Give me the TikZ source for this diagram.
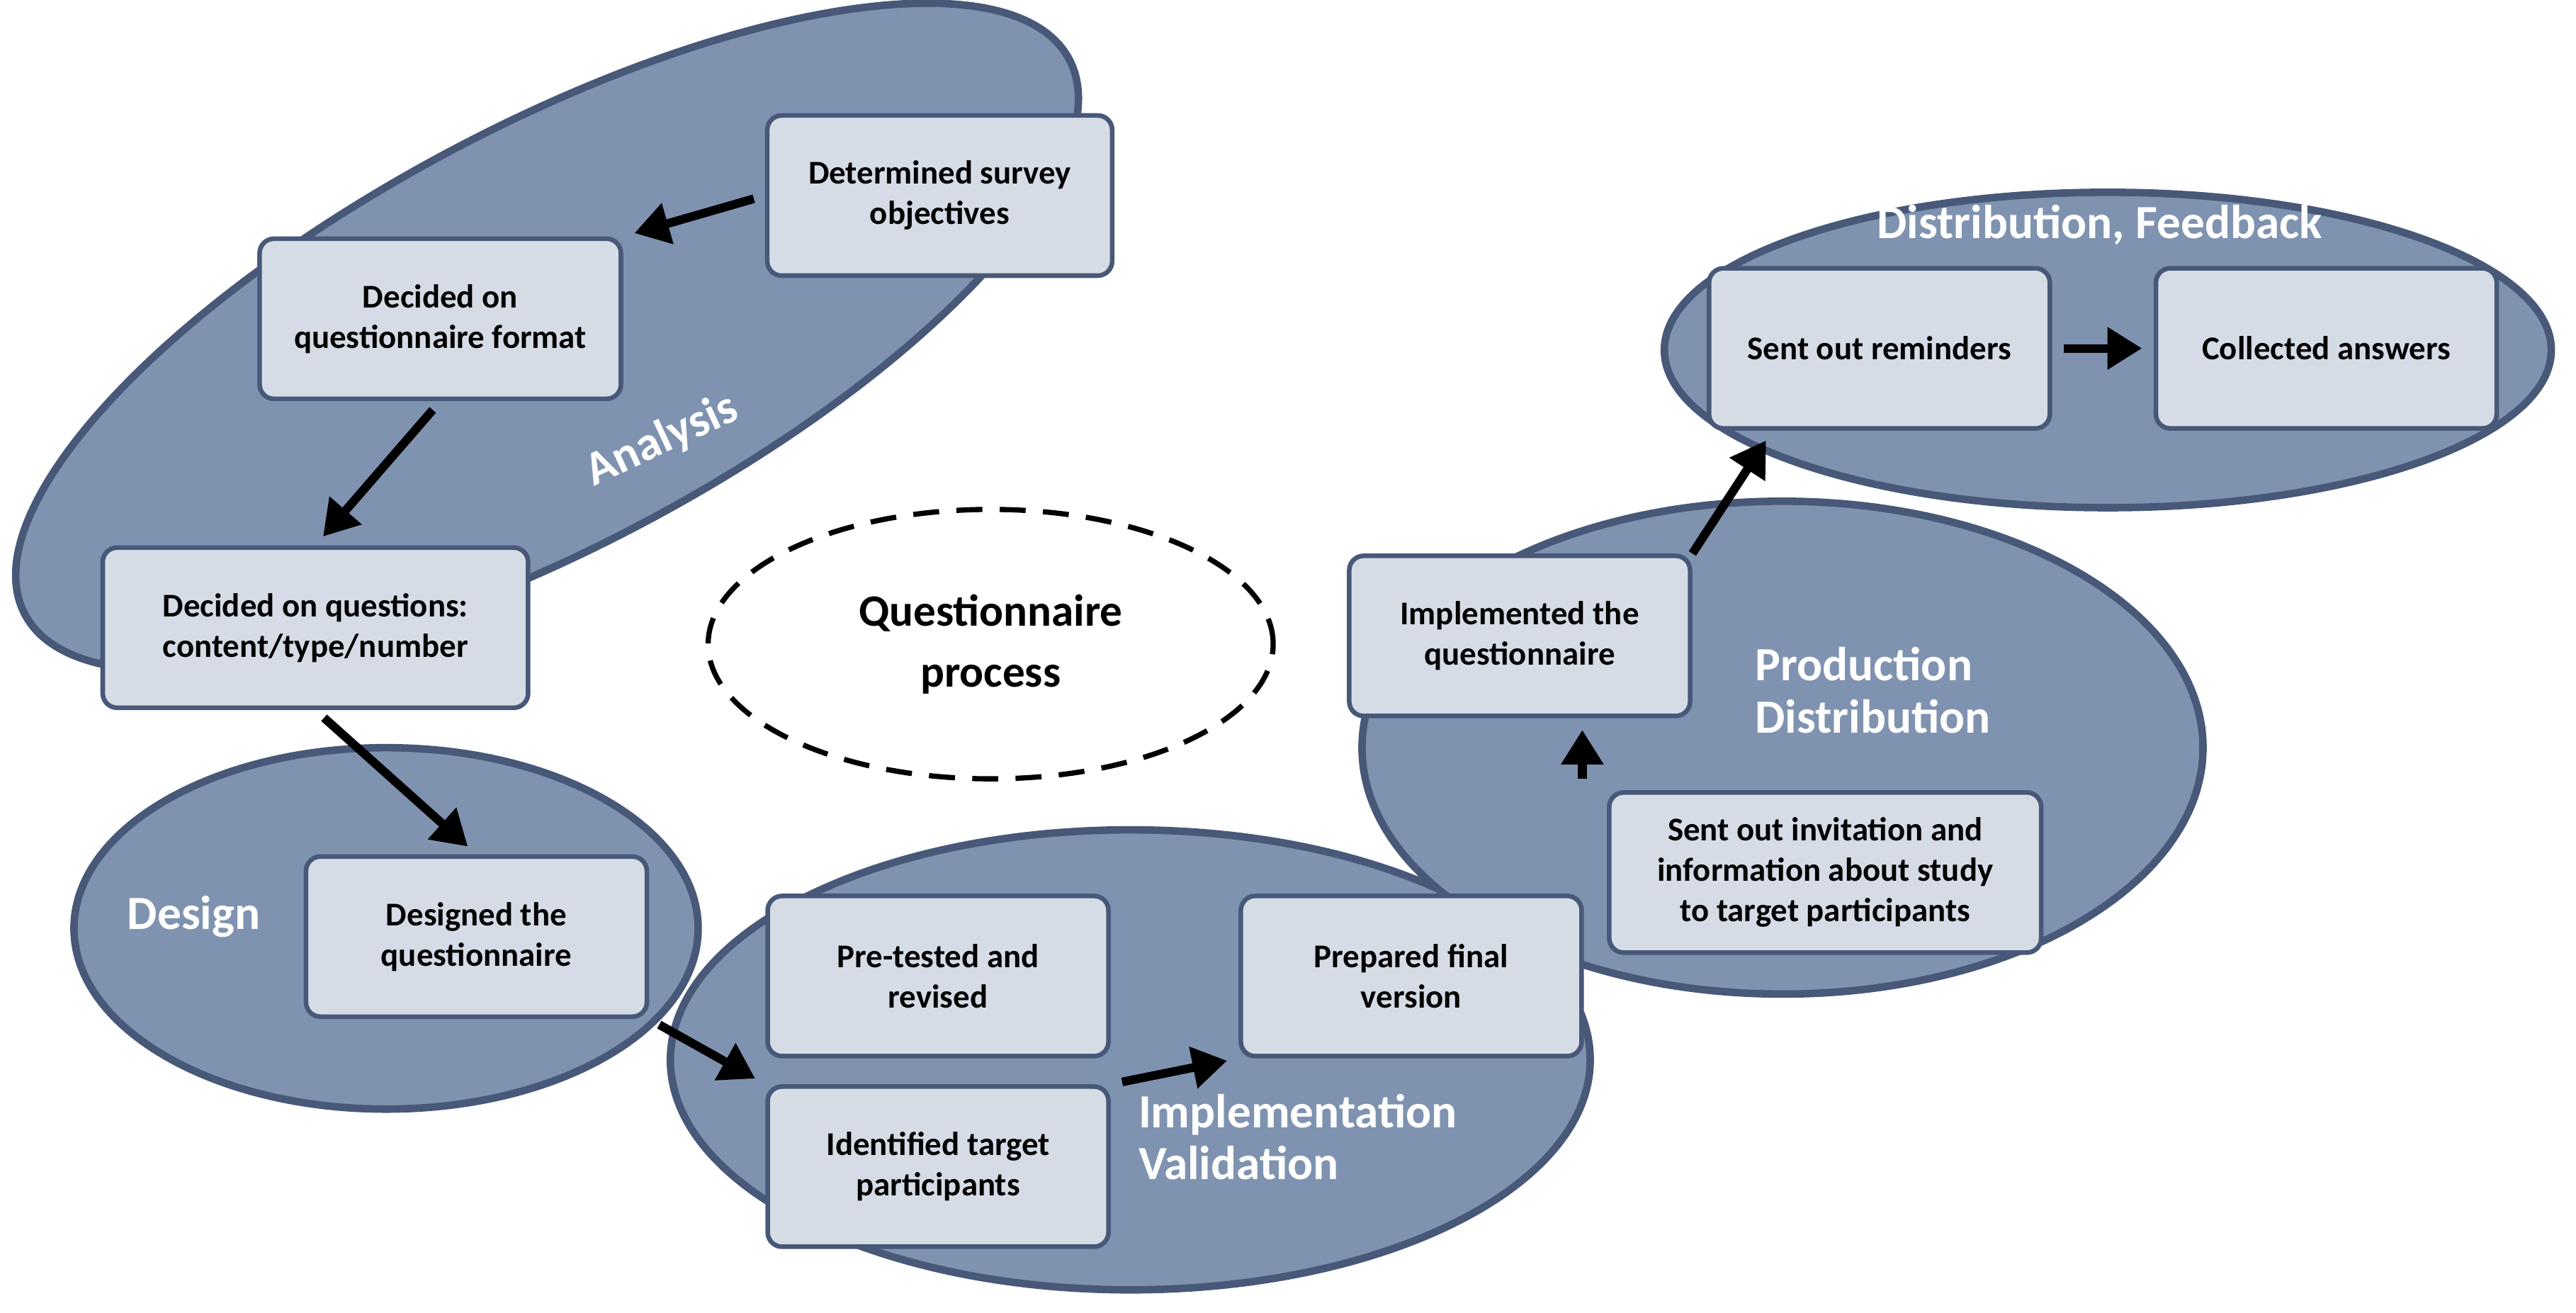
\documentclass[tikz,border=0pt]{standalone}
\usepackage{fontspec}
\setmainfont{Carlito}
\usetikzlibrary{arrows.meta,shapes.geometric}
\definecolor{phasefill}{HTML}{7F93B0}
\definecolor{phaseline}{HTML}{485878}
\definecolor{boxfill}{HTML}{D6DCE6}
\tikzset{
  phase/.style={ellipse, fill=phasefill, draw=phaseline, line width=2.6pt, inner sep=0pt},
  stepbox/.style={rectangle, rounded corners=5pt, fill=boxfill, draw=phaseline, line width=1.6pt,
    minimum width=4.15cm, minimum height=1.95cm, align=center, font=\bfseries\fontsize{11.5}{14}\selectfont},
  tag/.style={text=white, font=\bfseries\fontsize{16.5}{18}\selectfont, align=left},
  flow/.style={-{Triangle[length=12pt,width=14pt]}, line width=3pt, shorten <=4pt, shorten >=4pt}
}
\begin{document}
\begin{tikzpicture}[x=0.02cm,y=-0.02cm]
  \useasboundingbox (0,0) rectangle (1568,799);

  % phases
  \node[phase, minimum width=14.4cm, minimum height=5.1cm, rotate=28] (ana) at (333,205) {};
  \node[phase, minimum width=7.6cm, minimum height=4.4cm] (des) at (235,565) {};
  \node[phase, minimum width=11.2cm, minimum height=5.6cm] (imp) at (688,645) {};
  \node[phase, minimum width=10.24cm, minimum height=6cm] (pro) at (1085,455) {};
  \node[phase, minimum width=10.8cm, minimum height=3.84cm] (dis) at (1283,213) {};
  \node[ellipse, draw, line width=1.8pt, dash pattern=on 9pt off 6pt, minimum width=6.88cm, minimum height=3.28cm,
    align=center, font=\bfseries\fontsize{15.5}{21}\selectfont] (qp) at (603,392) {Questionnaire\\process};

  % phase labels
  \node[tag, rotate=25] (anat) at (403,268) {Analysis};
  \node[tag] (dest) at (118,558) {Design};
  \node[tag] (impt) at (790,692) {Implementation\\Validation};
  \node[tag] (prot) at (1140,420) {Production\\Distribution};
  \node[tag] (dist) at (1278,137) {Distribution, Feedback};

  % steps
  \node[stepbox, minimum width=4.2cm] (obj) at (572,119) {Determined survey\\objectives};
  \node[stepbox, minimum width=4.4cm] (fmt) at (268,194) {Decided on\\questionnaire format};
  \node[stepbox, minimum width=5.18cm] (que) at (192,382) {Decided on questions:\\content/type/number};
  \node[stepbox] (dsg) at (290,570) {Designed the\\questionnaire};
  \node[stepbox] (pre) at (571,594) {Pre-tested and\\revised};
  \node[stepbox] (idt) at (571,710) {Identified target\\participants};
  \node[stepbox] (fin) at (859,594) {Prepared final\\version};
  \node[stepbox] (imq) at (925,387) {Implemented the\\questionnaire};
  \node[stepbox, minimum width=5.26cm] (inv) at (1111,531) {Sent out invitation and\\information about study\\to target participants};
  \node[stepbox] (rem) at (1144,212) {Sent out reminders};
  \node[stepbox] (col) at (1416,212) {Collected answers};

  % flow
  \draw[flow] (obj.west) -- (fmt.north east);
  \draw[flow] (fmt.south) -- (que.north);
  \draw[flow] (que.south) -- (dsg.north);
  \draw[flow] (dsg.south east) -- (idt.north west);
  \draw[flow] (idt.north east) -- (fin.south west);
  \draw[flow] ([xshift=-0.3cm]inv.north west) -- ([xshift=-0.3cm]inv.north west |- imq.south);
  \draw[flow, shorten <=0pt] (imq.north east) -- ([xshift=0.8cm]rem.south west);
  \draw[flow] (rem.east) -- (col.west);
\end{tikzpicture}
\end{document}
